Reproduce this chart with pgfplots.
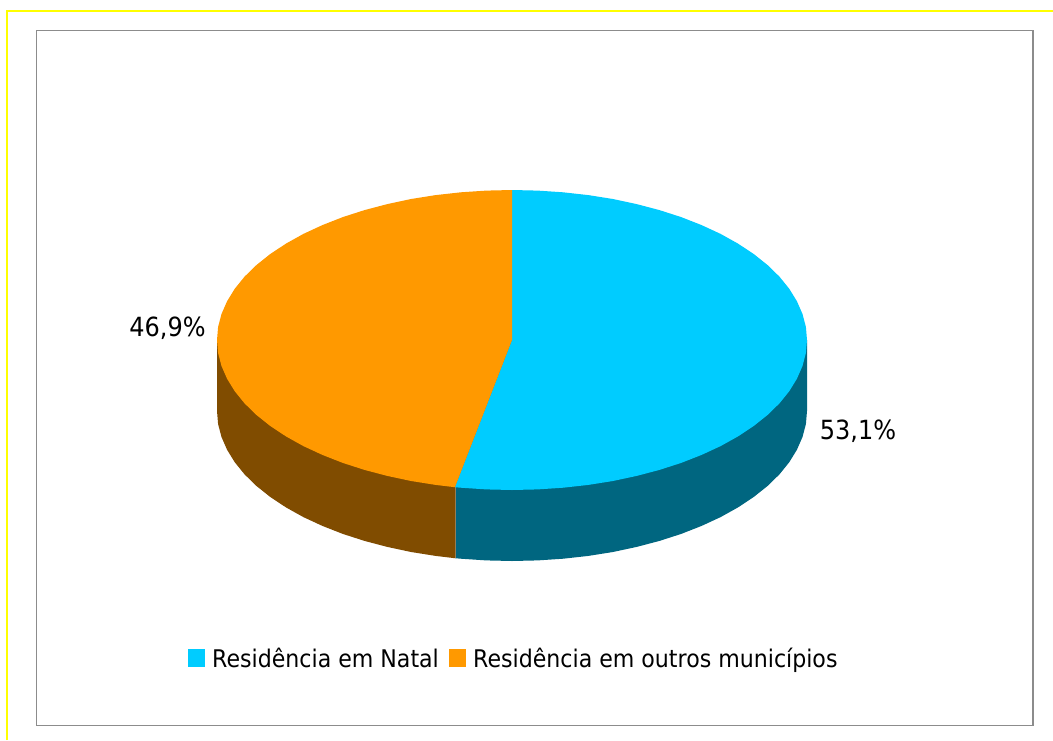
\documentclass[border=0pt]{standalone}
\usepackage{pgfplots}
\pgfplotsset{compat=1.18}
\usepackage{fontspec}
\setmainfont{DejaVu Sans}
\definecolor{natal}{HTML}{00CCFF}
\definecolor{outros}{HTML}{FF9900}
\definecolor{natalside}{HTML}{006680}
\definecolor{outrosside}{HTML}{804C00}
\definecolor{frame}{HTML}{8C8C8C}
\definecolor{rule}{HTML}{FFFF00}
\newcommand{\tall}[1]{\scalebox{1}[1.1]{#1}}
\begin{document}
\begin{tikzpicture}
\begin{axis}[
  scale only axis, width=1053pt, height=740pt,
  xmin=0, xmax=1053, ymin=0, ymax=740, y dir=reverse,
  hide axis,
]
% page background
\addplot[fill=white, draw=none] coordinates {(0,0) (1053,0) (1053,740) (0,740)};
% outer yellow rule and grey chart frame
\addplot[rule, line width=2.8pt] coordinates {(7,740) (7,11) (1053,11)};
\addplot[frame, line width=1.4pt] coordinates {(36.7,30.3) (1033,30.3) (1033,725.7) (36.7,725.7) (36.7,30.3)};
% side wall of the 53,1% slice
\addplot[fill=natalside, draw=none] coordinates {
  (512,340) (807,340) (807,411) (805.9,424.1) (802.5,437) (796.9,449.8) (789.2,462.3)
  (779.4,474.4) (767.5,486) (753.7,497) (738,507.4) (720.6,517.1) (701.6,525.9)
  (681.2,533.9) (659.5,540.9) (636.7,546.9) (612.9,552) (588.4,555.9) (563.2,558.7)
  (537.7,560.4) (512,561) (486.3,560.4) (460.8,558.7) (454.9,558.2) (454.9,487.2)};
% side wall of the 46,9% slice
\addplot[fill=outrosside, draw=none] coordinates {
  (512,340) (454.9,487.2) (454.9,558.2) (435.6,555.9) (411.1,552) (387.3,546.9)
  (364.5,540.9) (342.8,533.9) (322.4,525.9) (303.4,517.1) (286,507.4) (270.3,497)
  (256.5,486) (244.6,474.4) (234.8,462.3) (227.1,449.8) (221.5,437) (218.1,424.1)
  (217,411) (217,340)};
\addplot[color={rgb,255:red,150;green,125;blue,85}, line width=0.8pt] coordinates {(455,487.2) (455,558.2)};
% top face, 53,1%
\addplot[fill=natal, draw=none] coordinates {
  (512,340) (512,190) (537.7,190.6) (563.2,192.3) (588.4,195.1) (612.9,199) (636.7,204.1)
  (659.5,210.1) (681.2,217.1) (701.6,225.1) (720.6,233.9) (738,243.6) (753.7,254)
  (767.5,265) (779.4,276.6) (789.2,288.7) (796.9,301.2) (802.5,314) (805.9,326.9)
  (807,340) (805.9,353.1) (802.5,366) (796.9,378.8) (789.2,391.3) (779.4,403.4)
  (767.5,415) (753.7,426) (738,436.4) (720.6,446.1) (701.6,454.9) (681.2,462.9)
  (659.5,469.9) (636.7,475.9) (612.9,481) (588.4,484.9) (563.2,487.7) (537.7,489.4)
  (512,490) (486.3,489.4) (460.8,487.7) (454.9,487.2)};
% top face, 46,9%
\addplot[fill=outros, draw=none] coordinates {
  (512,340) (454.9,487.2) (435.6,484.9) (411.1,481) (387.3,475.9) (364.5,469.9)
  (342.8,462.9) (322.4,454.9) (303.4,446.1) (286,436.4) (270.3,426) (256.5,415)
  (244.6,403.4) (234.8,391.3) (227.1,378.8) (221.5,366) (218.1,353.1) (217,340)
  (218.1,326.9) (221.5,314) (227.1,301.2) (234.8,288.7) (244.6,276.6) (256.5,265)
  (270.3,254) (286,243.6) (303.4,233.9) (322.4,225.1) (342.8,217.1) (364.5,210.1)
  (387.3,204.1) (411.1,199) (435.6,195.1) (460.8,192.3) (486.3,190.6) (512,190)};
% legend swatches
\addplot[fill=natal, draw=none] coordinates {(188,649) (205,649) (205,667) (188,667)};
\addplot[fill=outros, draw=none] coordinates {(449,649) (466,649) (466,667) (449,667)};
% value labels
\node[anchor=base, inner sep=0pt, font=\fontsize{24}{24}\selectfont] at (axis cs:167.5,336) {\tall{46,9\%}};
\node[anchor=base, inner sep=0pt, font=\fontsize{24}{24}\selectfont] at (axis cs:858,439.5) {\tall{53,1\%}};
% legend entries
\node[anchor=base west, inner sep=0pt, font=\fontsize{22.1}{22}\selectfont] at (axis cs:212,667) {\tall{Residência em Natal}};
\node[anchor=base west, inner sep=0pt, font=\fontsize{22.1}{22}\selectfont] at (axis cs:473,667) {\tall{Residência em outros municípios}};
\end{axis}
\end{tikzpicture}
\end{document}
